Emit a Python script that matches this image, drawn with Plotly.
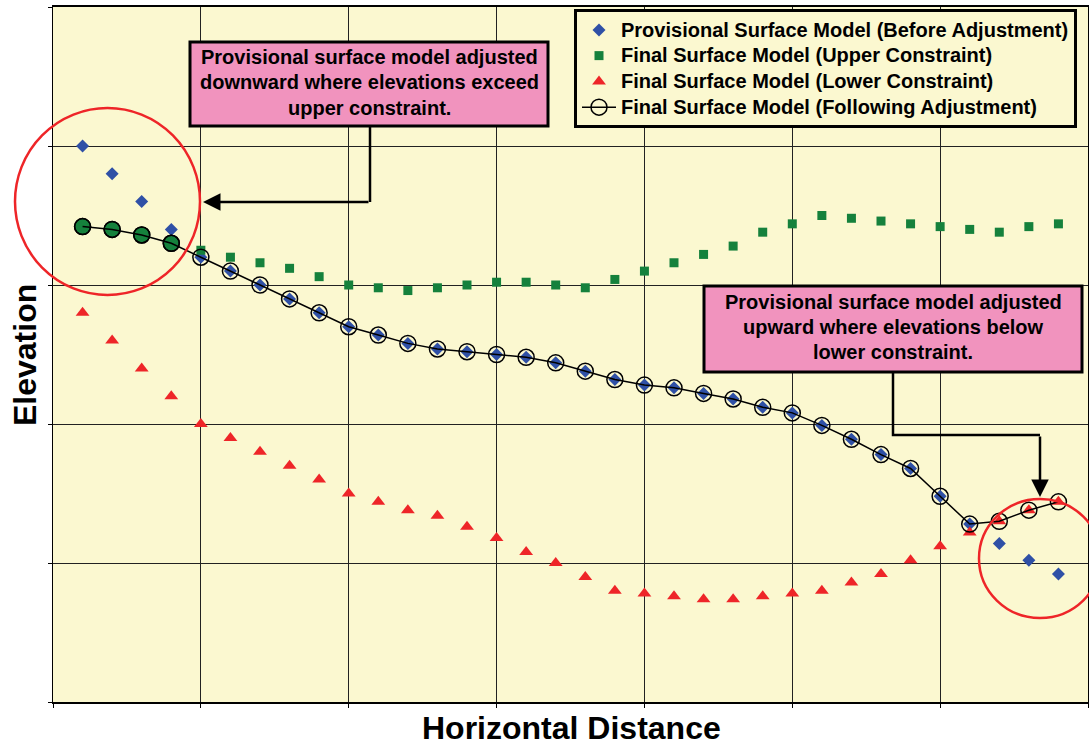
import plotly.graph_objects as go

# ---------------- data ----------------
distance = list(range(1, 35))

provisional = [4.00, 3.80, 3.60, 3.40, 3.20, 3.10, 3.00, 2.90, 2.80, 2.70,
               2.64, 2.58, 2.54, 2.52, 2.50, 2.48, 2.44, 2.38, 2.32, 2.28,
               2.26, 2.22, 2.18, 2.12, 2.08, 1.99, 1.89, 1.78, 1.68, 1.48,
               1.28, 1.14, 1.02, 0.92]

upper_constraint = [3.42, 3.40, 3.36, 3.30, 3.25, 3.20, 3.16, 3.12, 3.06, 3.00,
                    2.98, 2.96, 2.98, 3.00, 3.02, 3.02, 3.00, 2.98, 3.04, 3.10,
                    3.16, 3.22, 3.28, 3.38, 3.44, 3.50, 3.48, 3.46, 3.44, 3.42,
                    3.40, 3.38, 3.42, 3.44]

lower_constraint = [2.80, 2.60, 2.40, 2.20, 2.00, 1.90, 1.80, 1.70, 1.60, 1.50,
                    1.44, 1.38, 1.34, 1.26, 1.18, 1.08, 1.00, 0.90, 0.80, 0.78,
                    0.76, 0.74, 0.74, 0.76, 0.78, 0.80, 0.86, 0.92, 1.02, 1.12,
                    1.22, 1.30, 1.38, 1.44]

final_adjusted = [3.42, 3.40, 3.36, 3.30, 3.20, 3.10, 3.00, 2.90, 2.80, 2.70,
                  2.64, 2.58, 2.54, 2.52, 2.50, 2.48, 2.44, 2.38, 2.32, 2.28,
                  2.26, 2.22, 2.18, 2.12, 2.08, 1.99, 1.89, 1.78, 1.68, 1.48,
                  1.28, 1.30, 1.38, 1.44]

series_names = ["Provisional Surface Model (Before Adjustment)",
                "Final Surface Model (Upper Constraint)",
                "Final Surface Model (Lower Constraint)",
                "Final Surface Model (Following Adjustment)"]

note_upper = ["Provisional surface model adjusted",
              "downward where elevations exceed",
              "upper constraint."]
note_lower = ["Provisional surface model adjusted",
              "upward where elevations below",
              "lower constraint."]

x_title = "Horizontal Distance"
y_title = "Elevation"

# ---------------- style ----------------
FONT = "Liberation Sans, Arial, sans-serif"
BG = "#FBF8D0"
PINK = "#F193BE"
BLUE = "#2F50A6"
GREEN = "#15813C"
RED = "#EE2528"

W, H = 1089, 748
L, R, T, B = 53, 1088, 7, 702


def fx(p):
    return (p - L) / (R - L)


def fy(p):
    return (B - p) / (B - T)


def leg(name):
    # legend row spacing follows the legend font size; draw the label a bit larger
    return '<span style="font-size:20px">' + name + '</span>'


fig = go.Figure()

fig.add_trace(go.Scatter(x=distance, y=provisional, mode="markers", name=leg(series_names[0]),
                         marker=dict(symbol="diamond", size=10, color=BLUE)))
fig.add_trace(go.Scatter(x=distance, y=upper_constraint, mode="markers", name=leg(series_names[1]),
                         marker=dict(symbol="square", size=9, color=GREEN)))
fig.add_trace(go.Scatter(x=distance, y=lower_constraint, mode="markers", name=leg(series_names[2]),
                         marker=dict(symbol="triangle-up", size=12, color=RED)))

# points where the final model was clipped to the upper constraint (drawn filled green)
clip_x = [d for d, f, u in zip(distance, final_adjusted, upper_constraint) if abs(f - u) < 1e-9]
clip_y = [f for f, u in zip(final_adjusted, upper_constraint) if abs(f - u) < 1e-9]
fig.add_trace(go.Scatter(x=clip_x, y=clip_y, mode="markers", showlegend=False,
                         marker=dict(symbol="circle", size=16, color=GREEN,
                                     line=dict(color="black", width=1.5))))

fig.add_trace(go.Scatter(x=distance, y=final_adjusted, mode="lines+markers", name=leg(series_names[3]),
                         line=dict(color="black", width=1.5),
                         marker=dict(symbol="circle", size=16, color="rgba(0,0,0,0)",
                                     line=dict(color="black", width=1.5))))

shapes = []
annotations = []

# red highlight circles
shapes.append(dict(type="circle", xref="paper", yref="paper",
                   x0=fx(15), x1=fx(200), y0=fy(295), y1=fy(108),
                   line=dict(color=RED, width=2.5)))
shapes.append(dict(type="circle", xref="paper", yref="paper",
                   x0=fx(979), x1=fx(1101), y0=fy(618), y1=fy(499),
                   line=dict(color=RED, width=2.5)))

# note boxes
for (x0, x1, y0, y1) in [(190, 548, 42, 126), (704, 1082, 286, 372)]:
    shapes.append(dict(type="rect", xref="paper", yref="paper",
                       x0=fx(x0), x1=fx(x1), y0=fy(y1), y1=fy(y0),
                       fillcolor=PINK, line=dict(color="black", width=3)))

for lines, cx, ys in [(note_upper, 369, [56.5, 82.5, 108]), (note_lower, 893, [301.5, 326.5, 351.5])]:
    for txt, yy in zip(lines, ys):
        annotations.append(dict(text="<b>" + txt + "</b>", xref="paper", yref="paper",
                                x=fx(cx), y=fy(yy), xanchor="center", yanchor="middle",
                                showarrow=False, font=dict(family=FONT, size=20, color="black")))

# connector lines
shapes.append(dict(type="path", xref="paper", yref="paper",
                   path=f"M {fx(370)} {fy(127)} L {fx(370)} {fy(202)}",
                   line=dict(color="black", width=2.5)))
shapes.append(dict(type="path", xref="paper", yref="paper",
                   path=f"M {fx(893)} {fy(373)} L {fx(893)} {fy(435)} L {fx(1040)} {fy(435)}",
                   line=dict(color="black", width=2.5)))

# arrows
annotations.append(dict(text="", xref="paper", yref="paper", x=fx(203), y=fy(202),
                        ax=167, ay=0, showarrow=True, arrowhead=2, arrowsize=1.4,
                        arrowwidth=2.5, arrowcolor="black", standoff=0))
annotations.append(dict(text="", xref="paper", yref="paper", x=fx(1040), y=fy(497),
                        ax=0, ay=-62, showarrow=True, arrowhead=2, arrowsize=1.4,
                        arrowwidth=2.5, arrowcolor="black", standoff=0))

# axis titles
annotations.append(dict(text="<b>" + x_title + "</b>", xref="paper", yref="paper",
                        x=fx(571), y=fy(728), xanchor="center", yanchor="middle",
                        showarrow=False, font=dict(family=FONT, size=32, color="black")))
annotations.append(dict(text="<b>" + y_title + "</b>", xref="paper", yref="paper",
                        x=fx(25), y=fy(355), xanchor="center", yanchor="middle", textangle=-90,
                        showarrow=False, font=dict(family=FONT, size=32, color="black")))

fig.update_layout(
    width=W, height=H,
    margin=dict(l=L, r=W - R, t=T, b=H - B),
    paper_bgcolor="white", plot_bgcolor=BG,
    font=dict(family=FONT, color="black"),
    shapes=shapes, annotations=annotations,
    legend=dict(x=fx(574), y=fy(9), xanchor="left", yanchor="top",
                bgcolor=BG, bordercolor="black", borderwidth=3, itemwidth=34,
                font=dict(family=FONT, size=17.5, color="black", weight="bold")),
    xaxis=dict(range=[0, 35], dtick=5, tick0=0, showgrid=True, gridcolor="#222",
               gridwidth=1, zeroline=False, showticklabels=False,
               showline=True, linecolor="black", linewidth=2, mirror=True,
               ticks="outside", ticklen=4, tickcolor="black"),
    yaxis=dict(range=[0, 5], dtick=1, tick0=0, showgrid=True, gridcolor="#222",
               gridwidth=1, zeroline=False, showticklabels=False,
               showline=True, linecolor="black", linewidth=1, mirror=True,
               ticks="outside", ticklen=4, tickcolor="black"),
)

fig.write_html("out.html", config={"displayModeBar": False},
               post_script="document.body.style.margin='0px';")
